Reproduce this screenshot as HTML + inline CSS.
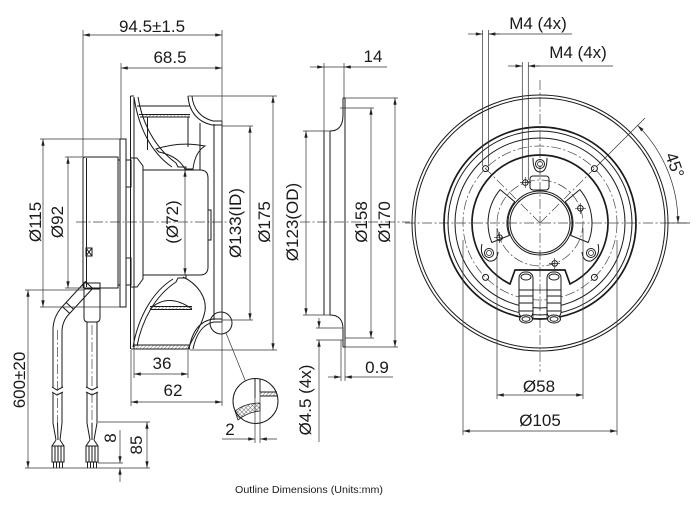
<!DOCTYPE html>
<html><head><meta charset="utf-8"><style>
html,body{margin:0;padding:0;background:#fff;}
svg{display:block;}
.o{stroke:#1a1a1a;stroke-width:1;fill:none;}
.t{stroke:#1a1a1a;stroke-width:1.7;fill:none;}
.d{stroke:#333;stroke-width:0.7;fill:none;}
.c{stroke:#444;stroke-width:0.7;fill:none;stroke-dasharray:10 2.5 2 2.5;}
text{font-family:"Liberation Sans",Arial,sans-serif;font-size:17px;fill:#1a1a1a;}
</style></head><body>
<svg width="700" height="526" viewBox="0 0 700 526" xmlns="http://www.w3.org/2000/svg">
<defs>
<marker id="a" viewBox="0 0 8 4" refX="8" refY="2" markerWidth="7" markerHeight="3.4" markerUnits="userSpaceOnUse" orient="auto-start-reverse"><path d="M0,0 L8,2 L0,4 z" fill="#222"/></marker>
<pattern id="h" width="2.5" height="2.5" patternUnits="userSpaceOnUse" patternTransform="rotate(45)"><line x1="0" y1="0" x2="0" y2="2.5" stroke="#333" stroke-width="0.7"/></pattern>
<pattern id="x" width="3" height="3" patternUnits="userSpaceOnUse" patternTransform="rotate(45)"><path d="M0,0 L0,3 M0,0 L3,0" stroke="#333" stroke-width="0.7"/></pattern>
</defs>
<rect width="700" height="526" fill="#fff"/>

<!-- ================= LEFT VIEW ================= -->
<path class="c" d="M76,222 L232,222 M300,222 L410,222"/>
<path class="o" d="M85,157 L118,157 L118,288 L85,288 Q83,288 83,286 L83,159 Q83,157 85,157 Z"/>
<line class="o" x1="86.5" y1="158" x2="86.5" y2="287"/>
<path class="o" d="M118,160 L120,160 M118,285 L120,285"/>
<rect class="o" x="120" y="139" width="6" height="168"/>
<rect class="o" x="126" y="160" width="5" height="27"/>
<rect class="o" x="126" y="258" width="5" height="27"/>
<rect class="o" x="86" y="248" width="6" height="8" stroke-width="0.8"/>
<path class="o" stroke-width="0.6" d="M86,248 L92,256 M92,248 L86,256"/>
<path class="o" d="M130.5,96 L130.5,349 M134,97 L134,349 M130.5,96 L134,96"/>
<path class="o" d="M134,97 C138,125 150,152 172,167"/>
<path class="o" d="M138,97 C142,122 154,147 176,163 L178,167 L186,167 L186,170"/>
<path class="o" d="M137,106 L190,106 M139,114.5 L190,114.5 M140,117 L190,117"/>
<rect x="140" y="114.5" width="50" height="2.5" fill="url(#h)"/>
<path class="o" d="M147.5,117 L147.5,150 M188,117 L188,147 M200,123 L200,170 M214,124 L214,320"/>
<path class="o" d="M156,149 Q180,141 205,146 Q195,152 193,169 L185,169 Q178,156 159,152 Z"/>
<path class="o" d="M188,96 C189,112 198,122 212,125 L222,125"/>
<path class="o" d="M192,96 C193,109 201,118 213,121 L222,121"/>
<path class="o" d="M143,170 L200,170 Q208,170 208,178 L208,267 Q208,275 200,275 L143,275 Z"/>
<rect class="o" x="208" y="210" width="3" height="30"/>
<path class="o" d="M131,158 L137,158 L143,166 L143,170 M131,287 L137,287 L143,279 L143,275"/>
<path class="o" d="M131,349 L190,349 M134,345 L190,345"/>
<rect x="134" y="345" width="56" height="4" fill="url(#h)"/>
<path class="o" d="M133,347 C138,318 152,292 173,279"/>
<path class="o" d="M137,346 C142,320 155,296 176,282 L178,278 L186,278 L186,275"/>
<path class="o" d="M150,309 Q168,292 192,309 M150,306.5 L192,306.5 M150,309.5 L192,309.5"/>
<rect x="150" y="306.5" width="42" height="3" fill="url(#h)"/>
<path class="o" d="M183,277 C198,284 207,298 205,311 C202,326 193,337 188,349"/>
<path class="o" d="M189,349 C192,331 200,321 213,319 L222,319"/>
<path class="o" d="M193,349 C196,334 203,324 214,322 L222,322"/>
<line class="o" x1="222" y1="121" x2="222" y2="322"/>
<circle class="o" cx="221" cy="323" r="11" stroke-width="0.8"/>
<path class="d" d="M226,333 L245,380"/>
<circle class="o" cx="255.5" cy="401" r="22.5" stroke-width="0.9"/>
<path class="o" d="M255,379 L255,398 M260,379 L260,392 M260,392 L277,392 M260,396 L277,396"/>
<rect x="260" y="392" width="17" height="4" fill="url(#h)"/>
<path d="M235,411 Q245,403 260,403 L260,411 Q248,412 238,420 Z" fill="url(#x)" stroke="#1a1a1a" stroke-width="0.8"/>

<!-- cables -->
<path class="o" d="M92.7,288.4 L85.3,281.6 L62.3,306.6 L69.7,313.4 Z M66.3,302.6 L73.7,309.4"/>
<path class="o" d="M62.3,306.6 Q53,317 53,330 L53,388 M69.7,313.4 Q62,321 62,332 L62,388 M53,393 L53,423 M62,393 L62,423"/>
<path class="o" stroke-width="0.7" d="M52,387 L57,390 L63,387 M52,392 L57,395 L63,392"/>
<path class="c" d="M57.5,330 L57.5,423"/>
<path class="o" d="M84,283 L100,283 L100,318 Q100,322 96,322 L88,322 Q84,322 84,318 Z M84,289 L100,289"/>
<path class="o" d="M87,322 L87,388 M97,322 L97,388 M87,393 L87,423 M97,393 L97,423"/>
<path class="o" stroke-width="0.7" d="M86,387 L92,390 L98,387 M86,392 L92,395 L98,392"/>
<path class="c" d="M92,325 L92,423"/>
<path class="o" stroke-width="0.8" d="M53,423 L56,440 M62,423 L60,440 M57.5,423 L58,440 M56,440 L52,446 M60,440 L64,446"/>
<path class="o" stroke-width="0.8" d="M52,446 L64,446 L64,462 L52,462 Z M55,446 L55,462 M58,446 L58,462 M61,446 L61,462 M53.5,462 L53.5,468 M56.5,462 L56.5,468 M59.5,462 L59.5,468 M62.5,462 L62.5,468"/>
<path class="o" stroke-width="0.8" d="M87,423 L90,440 M97,423 L94,440 M92,423 L92,440 M90,440 L86,446 M94,440 L98,446"/>
<path class="o" stroke-width="0.8" d="M86,446 L98,446 L98,462 L86,462 Z M89,446 L89,462 M92,446 L92,462 M95,446 L95,462 M87.5,462 L87.5,468 M90.5,462 L90.5,468 M93.5,462 L93.5,468 M96.5,462 L96.5,468"/>

<!-- left view dims -->
<path class="d" d="M83,30 L83,157 M222,30 L222,406 M121,63 L121,139"/>
<path class="d" marker-start="url(#a)" marker-end="url(#a)" d="M83,35 L222,35"/>
<text x="152" y="32" text-anchor="middle">94.5±1.5</text>
<path class="d" marker-start="url(#a)" marker-end="url(#a)" d="M121,68 L222,68"/>
<text x="170" y="63" text-anchor="middle">68.5</text>
<path class="d" d="M40,139 L120,139 M40,307 L120,307 M65,157 L83,157 M65,288 L83,288"/>
<path class="d" marker-start="url(#a)" marker-end="url(#a)" d="M43,139 L43,307"/>
<text transform="translate(41,222) rotate(-90)" text-anchor="middle">Ø115</text>
<path class="d" marker-start="url(#a)" marker-end="url(#a)" d="M68,157 L68,288"/>
<text transform="translate(63,222) rotate(-90)" text-anchor="middle">Ø92</text>
<path class="d" marker-start="url(#a)" marker-end="url(#a)" d="M185,170 L185,275"/>
<text transform="translate(178,222) rotate(-90)" text-anchor="middle">(Ø72)</text>
<path class="d" d="M222,96 L277,96 M190,350 L277,350 M188,96 L222,96 M222,126 L253,126 M222,320 L253,320"/>
<path class="d" marker-start="url(#a)" marker-end="url(#a)" d="M250,126 L250,320"/>
<text transform="translate(241,223) rotate(-90)" text-anchor="middle">Ø133(ID)</text>
<path class="d" marker-start="url(#a)" marker-end="url(#a)" d="M273,96 L273,350"/>
<text transform="translate(270,222) rotate(-90)" text-anchor="middle">Ø175</text>
<path class="d" d="M134,350 L134,378 M188,350 L188,378 M131,350 L131,406"/>
<path class="d" marker-start="url(#a)" marker-end="url(#a)" d="M134,374 L188,374"/>
<text x="162" y="369" text-anchor="middle">36</text>
<path class="d" marker-start="url(#a)" marker-end="url(#a)" d="M131,402 L222,402"/>
<text x="173" y="396" text-anchor="middle">62</text>
<path class="d" d="M255,382 L255,443 M260,382 L260,443"/>
<path class="d" marker-end="url(#a)" d="M222,439 L255,439"/>
<path class="d" marker-end="url(#a)" d="M277,439 L260,439"/>
<text x="230" y="435" text-anchor="middle">2</text>
<path class="d" d="M25,290 L84,290 M25,468 L150,468 M98,422 L150,422 M98,463 L123,463"/>
<path class="d" marker-start="url(#a)" marker-end="url(#a)" d="M28,290 L28,468"/>
<text transform="translate(25,380) rotate(-90)" text-anchor="middle">600±20</text>
<path class="d" marker-start="url(#a)" marker-end="url(#a)" d="M147,422 L147,468"/>
<text transform="translate(142,445) rotate(-90)" text-anchor="middle">85</text>
<path class="d" marker-end="url(#a)" d="M120,430 L120,463"/>
<path class="d" marker-end="url(#a)" d="M120,482 L120,468"/>
<text transform="translate(116,438) rotate(-90)" text-anchor="middle">8</text>

<!-- ================= MIDDLE RING VIEW ================= -->
<path class="o" d="M324,131 L324,315 M330,131 L330,315"/>
<path class="o" d="M330,131 Q343,131 343,115 L343,98 M330,315 Q343,315 343,329 L343,347"/>
<path class="o" d="M345,98 L345,347 M343,98 L345,98 M343,347 L345,347"/>
<path class="d" d="M303,131 L330,131 M303,315 L330,315 M340,108 L374,108 M345,338 L374,338 M345,98 L398,98 M345,347 L398,347"/>
<path class="d" marker-start="url(#a)" marker-end="url(#a)" d="M306,131 L306,315"/>
<text transform="translate(298,222) rotate(-90)" text-anchor="middle">Ø123(OD)</text>
<path class="d" marker-start="url(#a)" marker-end="url(#a)" d="M371,108 L371,338"/>
<text transform="translate(367,222) rotate(-90)" text-anchor="middle">Ø158</text>
<path class="d" marker-start="url(#a)" marker-end="url(#a)" d="M395,98 L395,347"/>
<text transform="translate(390,222) rotate(-90)" text-anchor="middle">Ø170</text>
<path class="d" d="M324,63 L324,131 M344,63 L344,98 M324,67 L344,67"/>
<path class="d" marker-end="url(#a)" d="M310,67 L324,67"/>
<path class="d" marker-end="url(#a)" d="M387,67 L344,67"/>
<text x="373" y="62" text-anchor="middle">14</text>
<path class="d" d="M316,328 L343,328 M316,340 L343,340"/>
<path class="d" marker-end="url(#a)" d="M319,318 L319,328"/>
<path class="d" marker-end="url(#a)" d="M319,442 L319,340"/>
<text transform="translate(311,400) rotate(-90)" text-anchor="middle">Ø4.5 (4x)</text>
<path class="d" d="M341,340 L341,381 M345,347 L345,381"/>
<path class="d" marker-end="url(#a)" d="M328,377 L341,377"/>
<path class="d" marker-end="url(#a)" d="M393,377 L345,377"/>
<text x="377" y="373" text-anchor="middle">0.9</text>

<!-- ================= RIGHT VIEW ================= -->
<path class="c" d="M405,223 L690,223 M540,80 L540,372"/>
<circle class="o" cx="540" cy="223" r="128"/>
<circle class="o" cx="540" cy="223" r="125" stroke-width="0.7"/>
<circle class="t" cx="540" cy="223" r="96"/>
<circle class="o" cx="540" cy="223" r="92" stroke-width="0.7"/>
<circle class="o" cx="540" cy="223" r="85" stroke-width="0.7"/>
<circle class="c" cx="540" cy="223" r="77"/>
<path class="t" d="M570,284 A68,68 0 1 0 510,284 L515,270 L565,270 Z" stroke-width="1.6"/>
<circle class="c" cx="540" cy="223" r="43"/>
<circle class="o" cx="540" cy="223" r="30" stroke-width="1.3"/>
<circle class="o" cx="540" cy="223" r="32" stroke-width="0.6"/>
<path class="c" d="M540,223 L485.6,168.6 M540,223 L594.4,168.6"/>
<path class="d" d="M597,166 L645,118"/>
<path class="o" stroke-width="1.2" stroke-linejoin="round" d="M514.7,201.8 L500.2,189.6 A52,52 0 0 0 491.8,242.5 L509.4,235.4 A33,33 0 0 1 514.7,201.8 Z"/>
<path class="o" stroke-width="1.2" stroke-linejoin="round" d="M565.3,201.8 L579.8,189.6 A52,52 0 0 1 588.2,242.5 L570.6,235.4 A33,33 0 0 0 565.3,201.8 Z"/>
<rect class="o" x="530" y="176" width="19" height="14" rx="3" stroke-width="1.2"/>
<g class="o" stroke-width="1.1">
<path d="M533,158 Q533,172 540,172 Q547,172 547,158"/>
<circle cx="540" cy="164" r="4.5"/><circle cx="540" cy="164" r="2.5" stroke-width="0.7"/>
<path d="M482,244 Q479,256 489,261 Q497,262 498,252"/>
<circle cx="489" cy="253" r="4.5"/><circle cx="489" cy="253" r="2.5" stroke-width="0.7"/>
<path d="M598,244 Q601,256 591,261 Q583,262 582,252"/>
<circle cx="591" cy="253" r="4.5"/><circle cx="591" cy="253" r="2.5" stroke-width="0.7"/>
</g>
<g class="o" stroke-width="0.8">
<circle cx="485.6" cy="168.6" r="3"/><circle cx="594.4" cy="168.6" r="3"/>
<circle cx="485.6" cy="277.4" r="3"/><circle cx="594.4" cy="277.4" r="3"/>
<circle cx="580.4" cy="208.3" r="2.8"/><circle cx="525.3" cy="182.6" r="2.8"/>
<circle cx="499.6" cy="237.7" r="2.8"/><circle cx="554.7" cy="263.4" r="2.8"/>
</g>
<path class="d" d="M575,208.3 L586,208.3 M580.4,203 L580.4,214 M520,182.6 L531,182.6 M525.3,177 L525.3,188 M494,237.7 L505,237.7 M499.6,232 L499.6,243 M549,263.4 L560,263.4 M554.7,258 L554.7,269"/>
<g class="o" stroke-width="1.1">
<rect x="519" y="272" width="14" height="46" rx="6" fill="#fff"/>
<path d="M519,290 L533,290 M519,296 L533,296 M519,303 L533,303 M519,311 L533,311"/>
<ellipse cx="526" cy="319" rx="6.5" ry="4" fill="#fff"/>
<ellipse cx="526" cy="319" rx="4" ry="2.3"/>
<ellipse cx="526" cy="277" rx="5" ry="3"/>
<rect x="547" y="272" width="14" height="46" rx="6" fill="#fff"/>
<path d="M547,290 L561,290 M547,296 L561,296 M547,303 L561,303 M547,311 L561,311"/>
<ellipse cx="554" cy="319" rx="6.5" ry="4" fill="#fff"/>
<ellipse cx="554" cy="319" rx="4" ry="2.3"/>
<ellipse cx="554" cy="277" rx="5" ry="3"/>
<path d="M533,290 L547,290 M533,284 L533,318 M547,284 L547,318" stroke-width="0.8"/>
</g>
<path class="d" d="M482.6,30 L482.6,166 M488.6,30 L488.6,166 M522.3,62 L522.3,180 M528.3,62 L528.3,180 M488.6,34 L572,34 M528.3,66 L613,66"/>
<path class="d" marker-end="url(#a)" d="M468,34 L482.6,34"/>
<path class="d" marker-end="url(#a)" d="M500,34 L488.6,34"/>
<text x="538" y="29" text-anchor="middle">M4 (4x)</text>
<path class="d" marker-end="url(#a)" d="M508,66 L522.3,66"/>
<path class="d" marker-end="url(#a)" d="M540,66 L528.3,66"/>
<text x="578" y="58" text-anchor="middle">M4 (4x)</text>
<path class="d" marker-start="url(#a)" marker-end="url(#a)" d="M637.6,125.4 A138,138 0 0 1 678,223"/>
<path class="d" d="M668,223 L690,223"/>
<text transform="translate(675,165) rotate(70)" text-anchor="middle" y="6">45°</text>
<path class="d" d="M463,240 L463,435 M617,240 L617,435 M497,228 L497,399 M583,228 L583,399"/>
<path class="d" marker-start="url(#a)" marker-end="url(#a)" d="M497,395 L583,395"/>
<text x="539" y="392" text-anchor="middle">Ø58</text>
<path class="d" marker-start="url(#a)" marker-end="url(#a)" d="M463,431 L617,431"/>
<text x="540" y="426" text-anchor="middle">Ø105</text>

<text x="235" y="493" style="font-size:10.5px;fill:#1a1a1a" textLength="148" lengthAdjust="spacingAndGlyphs">Outline Dimensions (Units:mm)</text>
</svg>
</body></html>
